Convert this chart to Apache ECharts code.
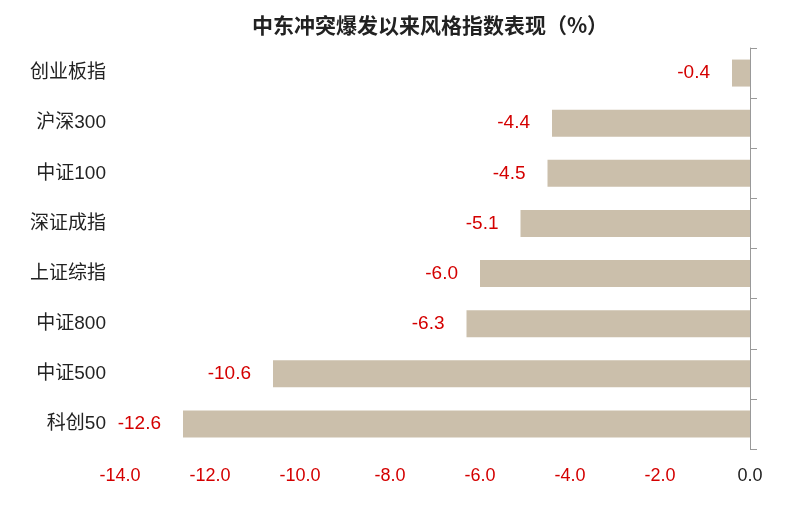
<!DOCTYPE html>
<html><head><meta charset="utf-8">
<script src="https://cdn.jsdelivr.net/npm/echarts@6/dist/echarts.min.js"></script>
<style>html,body{margin:0;padding:0;background:#fff}#c{width:803px;height:507px}</style>
</head><body><div id="c"></div>
<script>
const categories = ['创业板指','沪深300','中证100','深证成指','上证综指','中证800','中证500','科创50'];
const values = [-0.4,-4.4,-4.5,-5.1,-6.0,-6.3,-10.6,-12.6];
const chart = echarts.init(document.getElementById('c'));
chart.setOption({
  animation:false,
  textStyle:{fontFamily:'"Liberation Sans", "Noto Sans CJK SC", sans-serif'},
  title:{text:'中东冲突爆发以来风格指数表现（%）',left:425,textAlign:'center',top:10,
    textStyle:{fontSize:21,fontWeight:'bold',color:'#222',fontFamily:'"Noto Sans CJK SC", sans-serif'}},
  grid:{left:120,right:53,top:48,bottom:58},
  xAxis:{type:'value',min:-14,max:0,interval:2,
    axisLine:{show:false},axisTick:{show:false},splitLine:{show:false},
    axisLabel:{fontSize:18,margin:18,formatter:v=>v.toFixed(1),
      color:v=>v<0?'#d40000':'#222'}},
  yAxis:[
    {type:'category',data:categories,inverse:true,position:'left',
      axisLine:{show:false},axisTick:{show:false},
      axisLabel:{fontSize:19,color:'#222',margin:14}},
    {type:'category',data:categories,inverse:true,position:'right',
      axisLine:{show:true,lineStyle:{color:'#999'}},axisTick:{show:true,length:7,lineStyle:{color:'#999'}},
      axisLabel:{show:false}}
  ],
  series:[{type:'bar',data:values,barWidth:27,yAxisIndex:0,
    itemStyle:{color:'#cbbfab'},
    label:{show:true,position:'left',distance:22,fontSize:19,color:'#d40000',formatter:p=>p.value.toFixed(1)}}]
});
</script></body></html>
